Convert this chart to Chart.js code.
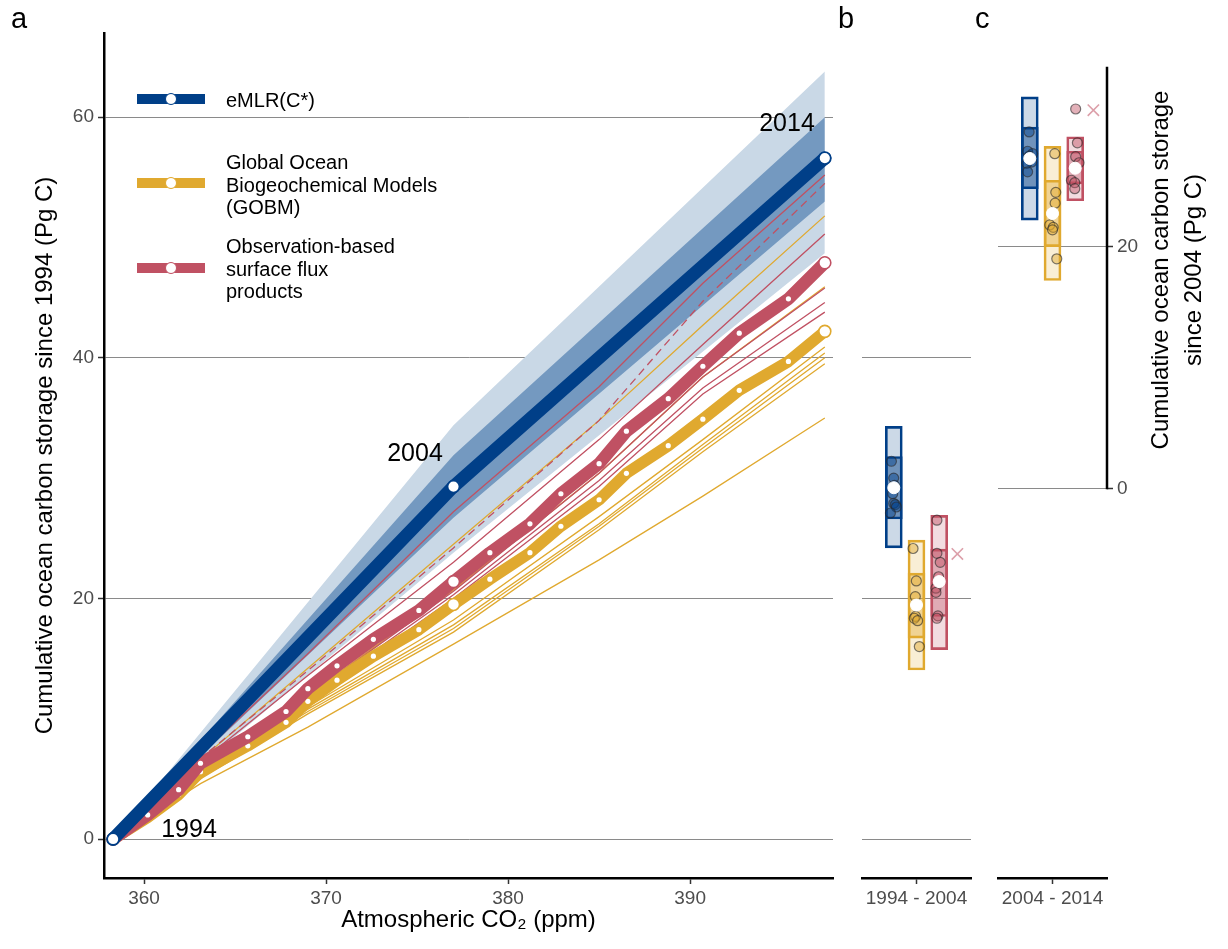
<!DOCTYPE html>
<html>
<head>
<meta charset="utf-8">
<script src="https://cdn.jsdelivr.net/npm/chart.js@4.4.1/dist/chart.umd.min.js"></script>
<style>
body { margin: 0; background: #fff; font-family: 'Liberation Sans', Arial, sans-serif; }
#wrap { position: relative; width: 1228px; height: 949px; overflow: hidden; }
canvas { position: absolute; left: 0; top: 0; }
.t { position: absolute; white-space: nowrap; color: #000; }
.sw { position: absolute; width: 68px; height: 10px; }
.dot { position: absolute; width: 10px; height: 10px; border-radius: 50%; background: #fff; border: 1.5px solid; }
.leg { position: absolute; left: 226px; font-size: 20px; line-height: 22.5px; color: #000; }
.ann { position: absolute; font-size: 25px; color: #000; transform: translate(-50%, -50%); }
.letter { position: absolute; font-size: 29px; color: #000; }
</style>
</head>
<body>
<div id="wrap">
  <canvas id="panelA" width="1228" height="949"></canvas>
  <canvas id="panelB" width="1228" height="949"></canvas>
  <canvas id="panelC" width="1228" height="949"></canvas>

  <div class="letter" style="left:11px;top:2px">a</div>
  <div class="letter" style="left:838px;top:2px">b</div>
  <div class="letter" style="left:975px;top:2px">c</div>

  <!-- legend -->
  <div class="sw" style="left:137px;top:94px;background:#003f88"></div>
  <div class="dot" style="left:164.5px;top:92.5px;border-color:#003f88"></div>
  <div class="leg" style="top:89px">eMLR(C*)</div>

  <div class="sw" style="left:137px;top:178px;background:#e0a92f"></div>
  <div class="dot" style="left:164.5px;top:176.5px;border-color:#e0a92f"></div>
  <div class="leg" style="top:151px">Global Ocean<br>Biogeochemical Models<br>(GOBM)</div>

  <div class="sw" style="left:137px;top:263px;background:#c05163"></div>
  <div class="dot" style="left:164.5px;top:261.5px;border-color:#c05163"></div>
  <div class="leg" style="top:235px">Observation-based<br>surface flux<br>products</div>

  <div class="ann" style="left:189px;top:828px">1994</div>
  <div class="ann" style="left:415px;top:452px">2004</div>
  <div class="ann" style="left:787px;top:122px">2014</div>

  <div class="t" style="left:926px;top:237px;width:500px;height:66px;text-align:center;font-size:24px;line-height:33px;transform:rotate(-90deg);transform-origin:250px 33px;">Cumulative ocean carbon storage<br>since 2004 (Pg C)</div>
</div>

<script>
// ---- data ----
var years = [1994, 1995, 1996, 1997, 1998, 1999, 2000, 2001, 2002, 2003, 2004,
             2005, 2006, 2007, 2008, 2009, 2010, 2011, 2012, 2013, 2014];
var co2 = [358.3, 360.2, 361.9, 363.1, 365.7, 367.8, 369.0, 370.6, 372.6, 375.1, 377.0,
           379.0, 381.2, 382.9, 385.0, 386.5, 388.8, 390.7, 392.7, 395.4, 397.4];

// ensemble means (Pg C since 1994)
var products = [0, 2.0, 4.1, 6.3, 8.5, 10.6, 12.5, 14.4, 16.6, 19.0, 21.4,
                23.8, 26.2, 28.7, 31.2, 33.9, 36.6, 39.3, 42.05, 44.9, 47.9];
var models = [0, 1.8, 3.7, 5.6, 7.75, 9.7, 11.45, 13.2, 15.2, 17.4, 19.5,
              21.6, 23.8, 26.0, 28.2, 30.4, 32.7, 34.9, 37.3, 39.7, 42.2];

// eMLR(C*) estimate and its uncertainty bands
var emlrYears = [1994, 2004, 2014];
var emlr = [0, 29.3, 56.6];
var emlrDarkLo = [0, 26.7, 53.0];
var emlrDarkHi = [0, 31.9, 60.0];
var emlrLightLo = [0, 23.8, 48.7];
var emlrLightHi = [0, 34.4, 63.8];

// individual runs, read at a few years
var thinYears = [1994, 1997, 2000, 2004, 2008, 2011, 2014];
var productRuns = [
  [0, 7.0, 15.4, 27.2, 37.6, 46.2, 55.2],
  [0, 6.7, 14.0, 24.2, 34.8, 44.7, 54.5],   // dashed one
  [0, 6.4, 13.6, 23.0, 33.2, 41.1, 50.3],
  [0, 5.8, 11.9, 20.6, 30.4, 38.4, 45.8],
  [0, 5.7, 11.7, 20.3, 29.8, 37.5, 44.6],
  [0, 5.6, 11.5, 20.0, 29.3, 37.0, 43.8]
];
var modelRuns = [
  [0, 6.6, 14.2, 24.5, 34.8, 42.7, 51.8],
  [0, 5.9, 12.0, 20.7, 30.4, 38.4, 45.9],
  [0, 5.3, 11.0, 18.2, 26.8, 33.2, 40.9],
  [0, 5.2, 10.8, 17.8, 26.2, 32.8, 40.4],
  [0, 5.1, 10.6, 17.5, 26.0, 32.5, 40.0],
  [0, 5.0, 10.4, 17.2, 25.7, 32.2, 39.5],
  [0, 4.6, 9.3, 16.2, 23.2, 28.5, 35.0]
];

// panel b: 1994 - 2004 (eMLR, GOBM, products)
var bRange = [[24.2, 34.3], [14.05, 24.85], [15.75, 26.9]];
var bIqr = [[26.6, 31.8], [16.7, 22.1], [18.5, 24.1]];
var bMean = [29.2, 19.45, 21.4];
var bMembers = [
  [31.4, 30.0, 29.4, 28.7, 27.9, 27.8, 27.6, 27.1],
  [24.15, 21.45, 20.15, 18.5, 18.35, 18.15, 16.0],
  [26.5, 23.75, 23.0, 21.8, 20.85, 20.5, 18.55, 18.35]
];
var bJitter = [
  [-0.026, -0.001, 0.007, -0.012, -0.001, 0.017, 0.028, -0.037],
  [-0.038, -0.002, -0.013, -0.01, -0.024, 0.012, 0.031],
  [-0.025, -0.025, 0.011, -0.007, -0.036, -0.036, -0.014, -0.025]
];
var bCross = 23.7;

// panel c: 2004 - 2014
var cRange = [[22.2, 32.4], [17.2, 28.3], [23.8, 29.1]];
var cIqr = [[24.8, 29.9], [20.0, 25.5], [25.2, 27.9]];
var cMean = [27.3, 22.75, 26.5];
var cMembers = [
  [29.5, 27.9, 27.7, 27.5, 27.0, 26.9, 26.2],
  [27.7, 24.5, 23.6, 21.8, 21.6, 21.4, 19.0],
  [31.4, 28.6, 27.45, 26.95, 25.5, 25.3, 24.8]
];
var cJitter = [
  [-0.007, -0.024, 0.031, -0.007, 0.02, -0.032, -0.024],
  [0.025, 0.036, 0.029, -0.03, 0.008, 0.0, 0.047],
  [0.005, 0.024, 0.005, 0.042, -0.042, -0.005, -0.005]
];
var cCross = 31.3;
var cAxisTop = 34.9;

// ---- styles ----
var BLUE = '#003f88', GOLD = '#e0a92f', RED = '#c05163';
var groupCol = [BLUE, GOLD, RED];
var boxLight = ['rgba(0,63,136,0.2)', 'rgba(224,169,47,0.2)', 'rgba(192,81,99,0.2)'];
var boxDark = ['rgba(0,63,136,0.45)', 'rgba(224,169,47,0.4)', 'rgba(192,81,99,0.35)'];
var ptFill = ['rgba(0,63,136,0.45)', 'rgba(224,169,47,0.45)', 'rgba(192,81,99,0.45)'];
var GRID = '#8a8a8a', TICKTXT = '#4d4d4d';
var dodge = [-0.25, 0, 0.25];
var crossDodge = 0.45;

Chart.defaults.font.family = "'Liberation Sans', Arial, sans-serif";
Chart.defaults.animation = false;
Chart.defaults.events = [];
Chart.defaults.plugins.legend.display = false;
Chart.defaults.plugins.tooltip.enabled = false;

function co2At(yr) { return co2[years.indexOf(yr)]; }
function pts(xs, ys) { return ys.map(function (v, i) { return {x: xs[i], y: v}; }); }
function fixTicks(vals) { return function (s) { s.ticks = vals.map(function (v) { return {value: v}; }); }; }

var thinX = thinYears.map(co2At);
var emlrX = emlrYears.map(co2At);
var bigIdx = emlrYears.map(function (y) { return years.indexOf(y); });

function bandLine(vals, col, w, ord) {
  return {
    data: pts(co2, vals), borderColor: col, borderWidth: w, order: ord,
    borderJoinStyle: 'round', borderCapStyle: 'round',
    pointBackgroundColor: '#fff', pointBorderColor: col,
    pointRadius: function (c) { return bigIdx.indexOf(c.dataIndex) >= 0 ? 6 : 2.6; },
    pointBorderWidth: function (c) { return bigIdx.indexOf(c.dataIndex) >= 0 ? 1.6 : 0; }
  };
}

// ---- panel a ----
var dsA = [];
dsA.push({data: pts(emlrX, emlr), borderColor: BLUE, borderWidth: 13, borderCapStyle: 'round',
  pointRadius: 6, pointBackgroundColor: '#fff', pointBorderColor: BLUE, pointBorderWidth: 1.8, order: 0});
dsA.push(bandLine(products, RED, 12.5, 1));
dsA.push(bandLine(models, GOLD, 11.5, 2));
productRuns.forEach(function (r, i) {
  dsA.push({data: pts(thinX, r), borderColor: RED, borderWidth: 1.3,
    borderDash: i === 1 ? [8, 5] : [], pointRadius: 0, order: 10 + i});
});
modelRuns.forEach(function (r, i) {
  dsA.push({data: pts(thinX, r), borderColor: GOLD, borderWidth: 1.3, pointRadius: 0, order: 20 + i});
});
dsA.push({data: pts(emlrX, emlrDarkHi), borderWidth: 0, pointRadius: 0, fill: '+1', backgroundColor: '#7499c0', order: 90});
dsA.push({data: pts(emlrX, emlrDarkLo), borderWidth: 0, pointRadius: 0, order: 91});
dsA.push({data: pts(emlrX, emlrLightHi), borderWidth: 0, pointRadius: 0, fill: '+1', backgroundColor: '#c9d8e6', order: 95});
dsA.push({data: pts(emlrX, emlrLightLo), borderWidth: 0, pointRadius: 0, order: 96});

new Chart(document.getElementById('panelA'), {
  type: 'line',
  data: {datasets: dsA},
  options: {
    responsive: false,
    layout: {padding: {left: 0, top: 33, right: 395, bottom: 0}},
    scales: {
      x: {
        type: 'linear', min: 357.8, max: 397.85,
        border: {color: '#000', width: 2.5},
        grid: {drawOnChartArea: false, tickLength: 6, tickColor: '#333', tickWidth: 1.5},
        ticks: {color: TICKTXT, font: {size: 19}, padding: 3},
        afterBuildTicks: fixTicks([360, 370, 380, 390]),
        afterFit: function (s) { s.height = 71; },
        title: {display: true, text: 'Atmospheric CO\u2082 (ppm)', color: '#000', font: {size: 24}, padding: {bottom: 14}}
      },
      y: {
        min: -3.24, max: 67.0,
        border: {color: '#000', width: 2.5},
        grid: {color: GRID, lineWidth: 1, tickLength: 6, tickColor: '#333', tickWidth: 1.5},
        ticks: {color: TICKTXT, font: {size: 19}, padding: 4},
        afterBuildTicks: fixTicks([0, 20, 40, 60]),
        afterFit: function (s) { s.width = 104; },
        title: {display: true, text: 'Cumulative ocean carbon storage since 1994 (Pg C)', color: '#000', font: {size: 24}, padding: {top: 31}}
      }
    }
  }
});

// ---- panels b and c ----
function boxDatasets(range, iqr, mean, members, jitter, cross) {
  var ds = [];
  for (var g = 0; g < 3; g++) {
    var cx = 1 + dodge[g];
    ds.push({type: 'bar', data: [{x: cx, y: range[g]}], backgroundColor: boxLight[g], borderColor: groupCol[g],
      borderWidth: 2, borderSkipped: false, barThickness: 17, grouped: false, order: 40});
    ds.push({type: 'bar', data: [{x: cx, y: iqr[g]}], backgroundColor: boxDark[g], borderColor: groupCol[g],
      borderWidth: 2, borderSkipped: false, barThickness: 17, grouped: false, order: 30});
    ds.push({type: 'line', showLine: false,
      data: members[g].map(function (v, i) { return {x: cx + jitter[g][i], y: v}; }),
      pointRadius: 5, pointBackgroundColor: ptFill[g], pointBorderColor: 'rgba(40,40,40,0.6)', pointBorderWidth: 1.2, order: 10});
    ds.push({type: 'line', showLine: false, data: [{x: cx, y: mean[g]}],
      pointRadius: 6, pointBackgroundColor: '#fff', pointBorderColor: '#fff', pointBorderWidth: 1, order: 5});
  }
  ds.push({type: 'line', showLine: false, data: [{x: 1 + crossDodge, y: cross}], pointStyle: 'crossRot',
    pointRadius: 8, pointBorderColor: 'rgba(192,81,99,0.55)', pointBorderWidth: 1.6, order: 4});
  return ds;
}

function catAxis(label) {
  return {
    type: 'linear', min: 0.4, max: 1.6, offset: false,
    border: {color: '#000', width: 2.5},
    grid: {drawOnChartArea: false, offset: false, tickLength: 6, tickColor: '#333', tickWidth: 1.5},
    ticks: {color: TICKTXT, font: {size: 19}, padding: 3, callback: function (v) { return v === 1 ? label : ''; }},
    afterBuildTicks: fixTicks([1]),
    afterFit: function (s) { s.height = 71; }
  };
}

new Chart(document.getElementById('panelB'), {
  type: 'bar',
  data: {datasets: boxDatasets(bRange, bIqr, bMean, bMembers, bJitter, bCross)},
  options: {
    responsive: false,
    layout: {padding: {left: 862, top: 33, right: 257, bottom: 0}},
    scales: {
      x: catAxis('1994 - 2004'),
      y: {
        min: -3.24, max: 67.0,
        border: {display: false},
        grid: {color: GRID, lineWidth: 1, drawTicks: false},
        ticks: {display: false},
        afterBuildTicks: fixTicks([0, 20, 40]),
        afterFit: function (s) { s.width = 0; }
      }
    }
  }
});

var partialAxis = {
  id: 'partialAxis',
  afterDraw: function (chart) {
    var y = chart.scales.y, ctx = chart.ctx, x = chart.chartArea.right;
    ctx.save();
    ctx.strokeStyle = '#000';
    ctx.lineWidth = 2.5;
    ctx.beginPath();
    ctx.moveTo(x, y.getPixelForValue(0) + 1);
    ctx.lineTo(x, y.getPixelForValue(cAxisTop));
    ctx.stroke();
    ctx.restore();
  }
};

new Chart(document.getElementById('panelC'), {
  type: 'bar',
  data: {datasets: boxDatasets(cRange, cIqr, cMean, cMembers, cJitter, cCross)},
  plugins: [partialAxis],
  options: {
    responsive: false,
    layout: {padding: {left: 998, top: 33, right: 0, bottom: 0}},
    scales: {
      x: catAxis('2004 - 2014'),
      y: {
        position: 'right', min: -32.26, max: 37.69,
        border: {display: false},
        grid: {color: GRID, lineWidth: 1, tickLength: 6, tickColor: '#333', tickWidth: 1.5},
        ticks: {color: TICKTXT, font: {size: 19}, padding: 4},
        afterBuildTicks: fixTicks([0, 20]),
        afterFit: function (s) { s.width = 121; }
      }
    }
  }
});
</script>
</body>
</html>
